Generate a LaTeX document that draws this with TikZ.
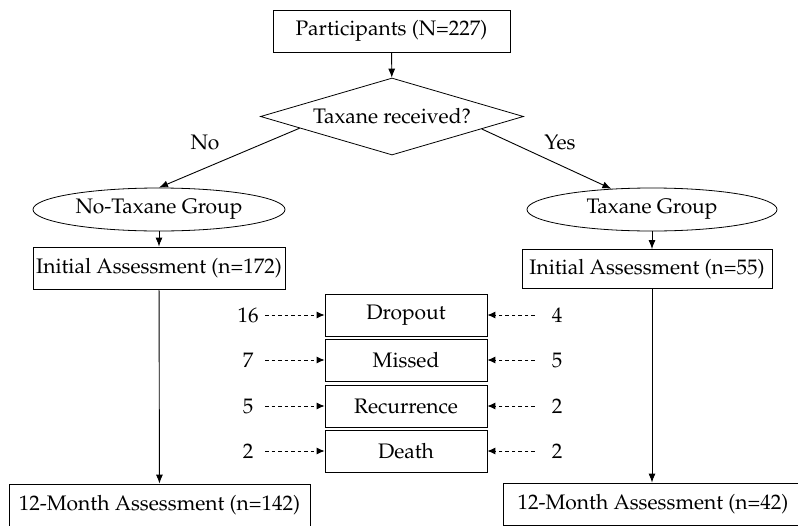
\documentclass[tikz,border=0pt]{standalone}
\usepackage[T1]{fontenc}
\usepackage{mathpazo}
\usetikzlibrary{shapes.geometric,arrows.meta,calc}
\begin{document}
\begin{tikzpicture}[x=1pt,y=-1pt,
  font=\fontsize{21}{24}\selectfont,
  box/.style={draw, line width=0.8pt, rectangle, inner sep=0pt, minimum height=42pt},
  ell/.style={draw, line width=0.8pt, ellipse, inner sep=0pt, minimum height=43pt},
  arr/.style={-{Latex[length=9pt,width=7pt]}, line width=0.9pt},
  darr/.style={-{Latex[length=8pt,width=7pt]}, line width=0.9pt, dash pattern=on 3.5pt off 3pt},
  lnum/.style={inner sep=0pt, minimum width=34pt, minimum height=20pt},
  rnum/.style={inner sep=0pt, minimum width=44pt, minimum height=20pt},
  mid/.style={box, minimum width=162pt}]
\useasboundingbox (0,0) rectangle (798,525);
\clip (0,0) rectangle (798,525);

\node[box, minimum width=237pt] (part) at (391.5,31) {Participants (N=227)};
\node[draw, line width=0.8pt, diamond, aspect=3.415, minimum width=263pt, minimum height=77pt, inner sep=0pt] (dia) at (392,116.5) {Taxane received?};

\node[ell, minimum width=252pt] (ntg) at (159,209.5) {No-Taxane Group};
\node[ell, minimum width=250pt] (tg) at (652,209.5) {Taxane Group};

\node[box, minimum width=252pt] (ia1) at (159,268) {Initial Assessment (n=172)};
\node[box, minimum width=250pt, minimum height=39pt] (ia2) at (647,269) {Initial Assessment (n=55)};

\node[box, minimum width=301pt] (m1) at (159.5,505) {12-Month Assessment (n=142)};
\node[box, minimum width=300pt] (m2) at (653,504) {12-Month Assessment (n=42)};

\node[mid] (drop) at (406,315) {Dropout};
\node[mid] (miss) at (406,360) {Missed};
\node[mid] (rec) at (406,406) {Recurrence};
\node[mid] (death) at (406,451) {Death};

\node[lnum] (l1) at (248,315) {16};
\node[lnum] (l2) at (248,360) {7};
\node[lnum] (l3) at (248,406) {5};
\node[lnum] (l4) at (248,451) {2};
\node[rnum] (r1) at (557,315) {4};
\node[rnum] (r2) at (557,360) {5};
\node[rnum] (r3) at (557,406) {2};
\node[rnum] (r4) at (557,451) {2};

\node (no) at (205,142) {No};
\node (yes) at (560,142) {Yes};

\coordinate (dl) at ($(dia.west)!0.3!(dia.south)$);
\coordinate (dr) at ($(dia.east)!0.32!(dia.south)$);

\draw[arr] (part) -- (dia);
\draw[arr] (dl) -- (ntg.north);
\draw[arr] (dr) -- (tg.153);
\draw[arr] (ntg) -- (ia1);
\draw[arr] (tg.south) -- (tg.south |- ia2.north);
\draw[arr] (ia1) -- (m1);
\draw[arr] (tg.south |- ia2.south) -- (tg.south |- m2.north);

\foreach \a/\b in {l1/drop,l2/miss,l3/rec,l4/death}{
  \draw[darr] (\a) -- (\b);
}
\foreach \a/\b in {r1/drop,r2/miss,r3/rec,r4/death}{
  \draw[darr] (\a) -- (\b);
}
\end{tikzpicture}
\end{document}
